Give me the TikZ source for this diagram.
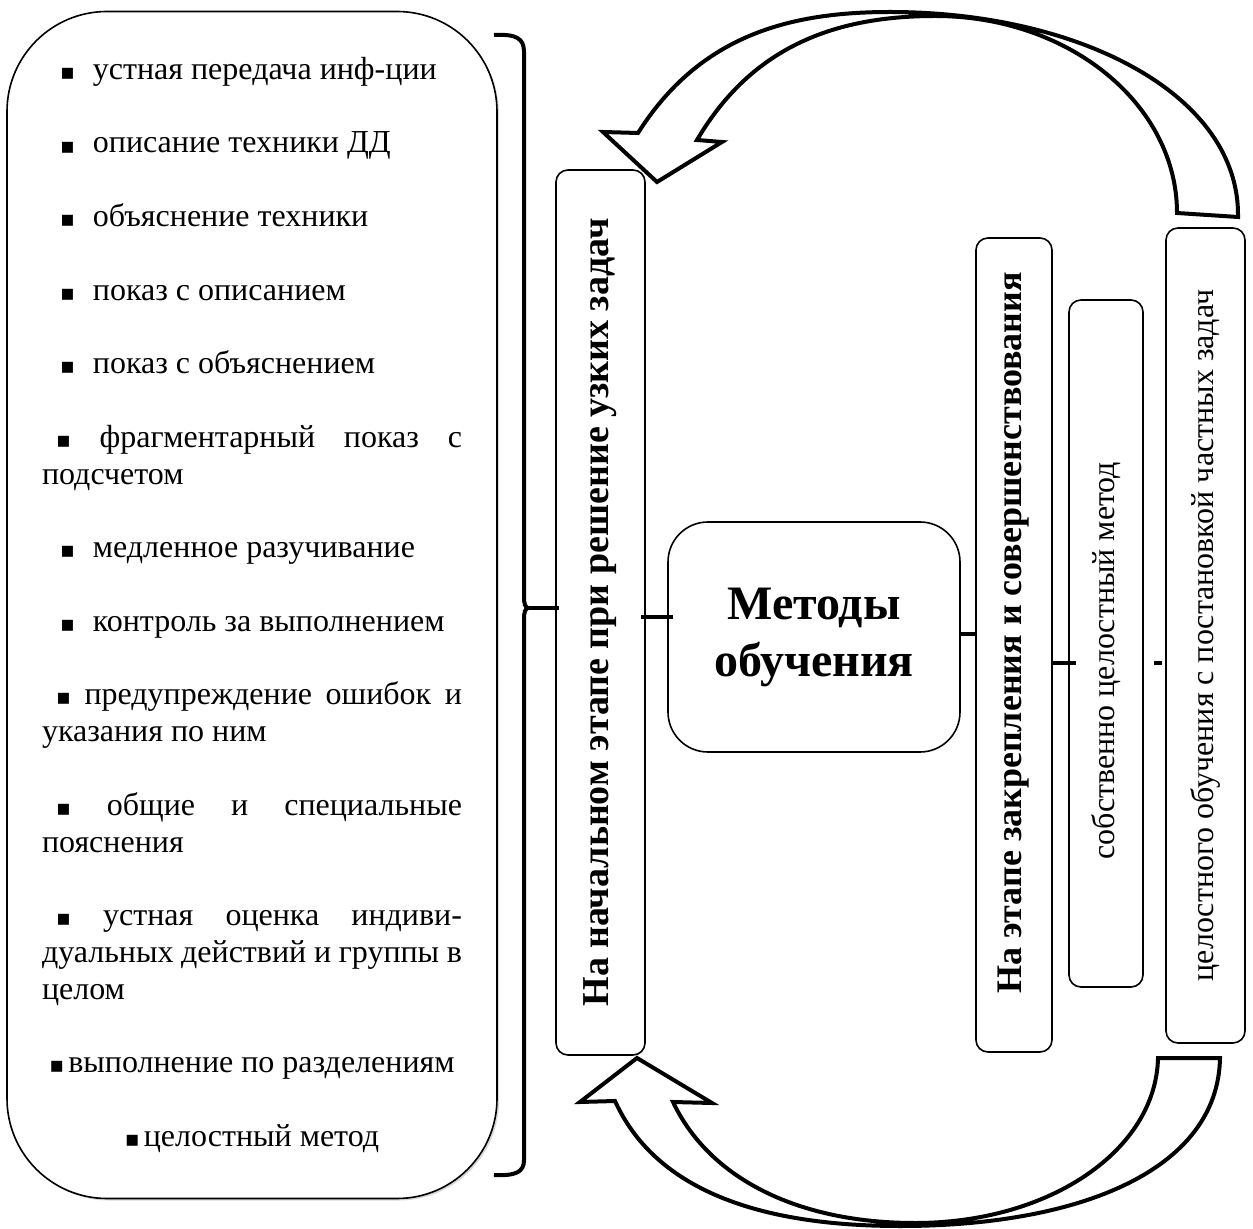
\documentclass[tikz,border=0pt]{standalone}
\usepackage{fontspec}
\setmainfont{Liberation Serif}
\newfontfamily\symfont{DejaVu Sans}
\usetikzlibrary{shadows}
\newcommand{\bul}{{\symfont\fontsize{11}{11}\selectfont ▪}}
\newcommand{\itm}{\hspace*{9pt}\bul\hspace{9pt}}
\newcommand{\itmj}{\hspace*{7pt}\bul\ }

\begin{document}
\begin{tikzpicture}[x=0.5pt,y=-0.5pt,
    lstbox/.style={draw,line width=0.8pt,rounded corners=50pt,fill=white,inner sep=0pt,
      minimum width=245pt,minimum height=593.5pt,text width=210pt,align=justify,
      font=\fontsize{16}{18.4}\selectfont,
      drop shadow={shadow xshift=1pt,shadow yshift=-1pt,fill=gray!60},
      execute at begin node={\setlength{\parskip}{18.4pt}}},
    vbox/.style={draw,line width=0.8pt,rounded corners=6pt,rotate=90,inner sep=0pt},
    cmbox/.style={draw,line width=0.8pt,rounded corners=20pt,align=center,
      minimum width=146pt,minimum height=115pt,font=\bfseries\fontsize{24}{28.5}\selectfont},
    link/.style={line width=2pt},
    bigarr/.style={line width=2pt,line join=miter}]

  \useasboundingbox (0,0) rectangle (1253,1229);

  % list of methods
  \node[lstbox] (lst) at (252,605) {%
    \itm устная передача инф-ции\par
    \itm описание техники ДД\par
    \itm объяснение техники\par
    \itm показ с описанием\par
    \itm показ с объяснением\par
    \itmj фрагментарный показ с\linebreak подсчетом\par
    \itm медленное разучивание\par
    \itm контроль за выполнением\par
    \itmj предупреждение ошибок и\linebreak указания по ним\par
    \itmj общие и специальные\linebreak пояснения\par
    \itmj устная оценка индиви-\linebreak дуальных действий и группы в\linebreak целом\par
    {\centering\bul\hspace{2pt}выполнение по разделениям\par}
    {\centering\bul\hspace{2pt}целостный метод\par}};

  % stages
  \node[vbox,minimum width=442.5pt,minimum height=44.5pt,font=\bfseries\fontsize{19}{21}\selectfont]
    (b1) at (600.5,612.5) {На начальном этапе при решение узких задач};
  \node[cmbox] (cm) at (814,637) {Методы\\обучения};
  \node[vbox,minimum width=407pt,minimum height=38pt,font=\bfseries\fontsize{18}{20}\selectfont]
    (b2) at (1014,645) {\hspace*{12pt}На этапе закрепления и совершенствования};
  \node[vbox,minimum width=343.5pt,minimum height=37pt,font=\fontsize{16}{18}\selectfont]
    (b3) at (1106,643.5) {собственно целостный метод\hspace*{17pt}};
  \node[vbox,minimum width=407.5pt,minimum height=39.5pt,font=\fontsize{16}{18}\selectfont]
    (b4) at (1205.5,635.5) {целостного обучения с постановкой частных задач};

  % brace
  \coordinate (brtip) at (528,608);
  \draw[link] (494,35) .. controls (516,34) and (524,38) .. (524,52) -- (524,596)
    .. controls (524,604) and (525,607) .. (brtip)
    .. controls (525,609) and (524,612) .. (524,620) -- (524,1160)
    .. controls (524,1172) and (516,1176) .. (494,1175);
  \draw[link,shorten >=-2pt] (brtip) -- (brtip -| b1.north);

  % links
  \coordinate (l1) at ([yshift=-2.5pt]b1.south);
  \draw[link,shorten <=-2.5pt,shorten >=-3pt] (l1) -- (l1 -| cm.west);
  \coordinate (l2) at ([yshift=1.5pt]cm.east);
  \draw[link] (l2) -- (l2 -| b2.north);
  \coordinate (l3) at ([yshift=-9pt]b2.south);
  \draw[link,shorten >=-4pt] (l3) -- (l3 -| b3.north);
  \coordinate (l4) at ([yshift=-10pt]b3.south);
  \draw[link,shorten <=5pt,shorten >=1.5pt] (l4) -- (l4 -| b4.north);

  % curved block arrows
  \draw[bigarr] (638,133) .. controls (700,35) and (790,12) .. (890,12)
    .. controls (1080,12) and (1240,95) .. (1238,217) -- (1177,213)
    .. controls (1177,105) and (1070,16) .. (935,16)
    .. controls (830,16) and (750,50) .. (697,140)
    -- (722,142) -- (657,182) -- (603,132) -- cycle;
  \draw[bigarr] (615,1101) .. controls (660,1200) and (780,1226) .. (900,1226)
    .. controls (1080,1226) and (1218,1170) .. (1220,1058) -- (1158,1058)
    .. controls (1156,1150) and (1050,1223) .. (915,1223)
    .. controls (800,1223) and (710,1180) .. (673,1102)
    -- (712,1103) -- (637,1058) -- (580,1102) -- cycle;

\end{tikzpicture}
\end{document}
